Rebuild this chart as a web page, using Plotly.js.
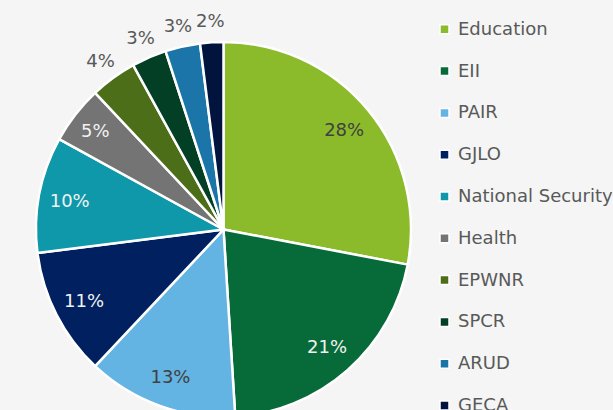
<!DOCTYPE html>
<html>
<head>
<meta charset="utf-8">
<script src="https://cdn.plot.ly/plotly-3.0.1.min.js"></script>
<style>
html,body{margin:0;padding:0;background:#f4f5f4;overflow:hidden;}
#wrap{width:613px;height:410px;overflow:hidden;}
#chart{width:613px;height:460px;}
</style>
</head>
<body>
<div id="wrap"><div id="chart"></div></div>
<script>
const categories = ['Education','EII','PAIR','GJLO','National Security','Health','EPWNR','SPCR','ARUD','GECA'];
const shares = [28,21,13,11,10,5,4,3,3,2];
const colors = ['#8bbb2b','#066b38','#63b3e3','#012060','#0e98aa','#747474','#4d6e18','#033f24','#1b75a8','#01143e'];
const labelColors = ['#404040','#f2f2f2','#404040','#f2f2f2','#f2f2f2','#f2f2f2','#595959','#595959','#595959','#595959'];
const labelPositions = ['inside','inside','inside','inside','inside','inside','outside','outside','outside','outside'];

const W = 613, H = 460;
const cx = 223.5, cy = 229.5, R = 187.5, R3 = 220;
const FONT = 'DejaVu Sans';

function dom(r) {
  return {x: [(cx - r) / W, (cx + r) / W], y: [(H - cy - r) / H, (H - cy + r) / H]};
}
const clear = categories.map(() => 'rgba(0,0,0,0)');
const common = {
  type: 'pie', labels: categories, values: shares, sort: false,
  direction: 'clockwise', rotation: 0, hoverinfo: 'skip', showlegend: false,
  insidetextorientation: 'horizontal', textposition: 'inside'
};

// the visible pie
const pie = Object.assign({}, common, {
  marker: {colors: colors, line: {color: '#ffffff', width: 2.5}},
  textinfo: 'none',
  domain: dom(R)
});
// labels that sit inside the slices (placed on a transparent ring)
const innerLabels = Object.assign({}, common, {
  hole: 0.67,
  marker: {colors: clear, line: {width: 0}},
  texttemplate: labelPositions.map(p => p === 'inside' ? '%{percent:.0%}' : ''),
  textfont: {family: FONT, size: 18, color: labelColors},
  domain: dom(R)
});
// labels that sit just outside the pie (placed on a larger transparent ring)
const outerLabels = Object.assign({}, common, {
  hole: 0.9,
  marker: {colors: clear, line: {width: 0}},
  texttemplate: labelPositions.map(p => p === 'outside' ? '%{percent:.0%}' : ''),
  textfont: {family: FONT, size: 18, color: labelColors},
  domain: dom(R3)
});

// Custom legend built from the category list
const legX = 456, legY0 = 28.3, legStep = 41.8, sq = 9;
const annotations = categories.map((c, i) => ({
  xref: 'paper', yref: 'paper', x: legX / W, y: 1 - (legY0 + i * legStep) / H,
  xanchor: 'left', yanchor: 'middle', showarrow: false, text: c,
  font: {family: FONT, size: 18, color: '#595959'}
}));
const shapes = categories.map((c, i) => {
  const yc = legY0 + 1 + i * legStep;
  return {
    type: 'rect', xref: 'paper', yref: 'paper',
    x0: 440 / W, x1: (440 + sq) / W,
    y0: 1 - (yc - sq / 2) / H, y1: 1 - (yc + sq / 2) / H,
    fillcolor: colors[i], line: {color: '#ffffff', width: 1.5}
  };
});

const layout = {
  width: W, height: H,
  margin: {l: 0, r: 0, t: 0, b: 0},
  paper_bgcolor: '#f4f5f4',
  plot_bgcolor: '#f4f5f4',
  showlegend: false,
  uniformtext: {mode: 'show', minsize: 18},
  annotations: annotations,
  shapes: shapes
};

Plotly.newPlot('chart', [pie, innerLabels, outerLabels], layout, {displayModeBar: false, staticPlot: true});
</script>
</body>
</html>
